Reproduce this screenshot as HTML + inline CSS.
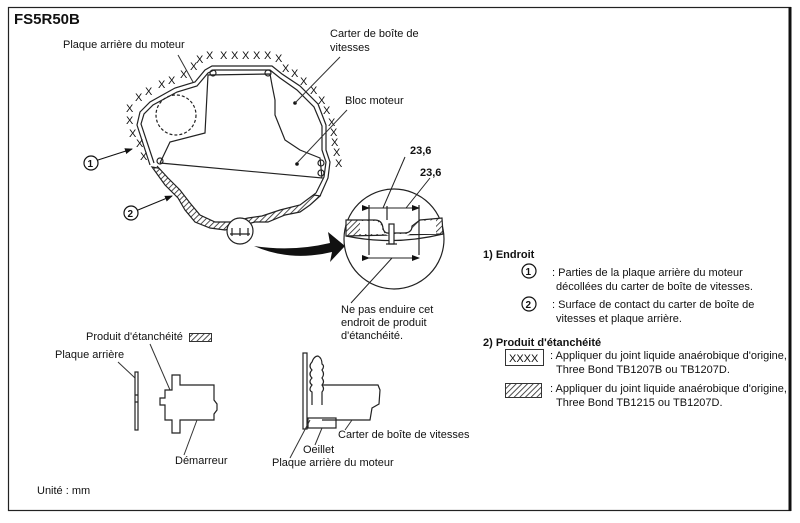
<!DOCTYPE html>
<html><head><meta charset="utf-8"><style>
html,body{margin:0;padding:0;background:#fff;}
svg{display:block;font-family:"Liberation Sans",Arial,sans-serif;}
text{font-size:11px;fill:#111;}
.b{font-weight:bold;}
</style></head><body>
<svg width="800" height="523" viewBox="0 0 800 523" xmlns="http://www.w3.org/2000/svg">
<defs>
<pattern id="h" width="4" height="4" patternUnits="userSpaceOnUse" patternTransform="rotate(45)">
<rect width="4" height="4" fill="#fff"/><line x1="0" y1="0" x2="0" y2="4" stroke="#222" stroke-width="1.6"/></pattern>
<marker id="a" markerWidth="8" markerHeight="8" refX="7" refY="4" orient="auto"><path d="M0,1 L8,4 L0,7z" fill="#111"/></marker>
</defs>
<rect x="0" y="0" width="800" height="523" fill="#fff"/>
<rect x="8.5" y="7.5" width="782" height="503" fill="none" stroke="#222" stroke-width="1.2"/>
<line x1="790" y1="7" x2="790" y2="511" stroke="#111" stroke-width="3"/>
<text x="14" y="24" class="b" style="font-size:15px">FS5R50B</text>

<!-- main plate -->
<g fill="none" stroke="#222" stroke-width="1.2">
<path d="M150,165 L137,125 L140,112 L150,102 L175,88 L195,82 L205,70 L212,66 L272,66 L282,74 L300,86 L318,104 L326,125 L326,150 L330,162 L328,178 L320,196"/>
<path d="M154,163 L141,124 L144,114 L153,105 L177,92 L197,86 L208,73 L214,70 L270,70 L280,78 L297,90 L314,107 L322,126 L322,150 L326,162 L324,177 L316,193"/>
<path d="M320,196 L310,205 L300,212 L285,215 L268,222 L255,222 L240,226 L225,230 L210,228 L195,222 L185,210 L178,198 L165,185 L152,167z" fill="url(#h)"/>
<path d="M316,193 L300,205 L280,210 L262,216 L248,218 L232,222 L215,222 L200,215 L190,203 L180,190 L168,178 L157,166" fill="#fff"/>
<path d="M160,163 L170,142 L205,133 L208,75 L270,74 L272,85 L275,100 L275,115 L285,140 L300,150 L320,158 L322,178 L160,163"/>
<circle cx="176" cy="115" r="20" stroke-dasharray="3,2"/>
<circle cx="213" cy="73" r="3"/><circle cx="268" cy="73" r="3"/>
<circle cx="160" cy="161" r="3"/><circle cx="321" cy="163" r="3"/><circle cx="321" cy="173" r="3"/>
<circle cx="240" cy="231" r="13" fill="#fff"/>
<path d="M230,234 h20 M232,228 v8 M240,228 v8 M248,228 v8"/>
</g>
<circle cx="295" cy="103" r="1.8" fill="#111"/><circle cx="297" cy="164" r="1.8" fill="#111"/>
<g style="font-size:10px" font-family="Liberation Sans">
<text x="196" y="63">X</text><text x="206" y="59">X</text><text x="220" y="59">X</text><text x="231" y="59">X</text><text x="242" y="59">X</text><text x="253" y="59">X</text><text x="264" y="59">X</text><text x="275" y="62">X</text>
<text x="282" y="72">X</text><text x="291" y="77">X</text><text x="300" y="85">X</text><text x="310" y="94">X</text><text x="318" y="104">X</text><text x="323" y="114">X</text><text x="328" y="126">X</text><text x="330" y="136">X</text><text x="331" y="146">X</text><text x="333" y="156">X</text><text x="335" y="167">X</text>
<text x="190" y="70">X</text><text x="180" y="78">X</text><text x="168" y="84">X</text><text x="158" y="88">X</text><text x="145" y="95">X</text><text x="135" y="101">X</text><text x="126" y="112">X</text><text x="126" y="124">X</text><text x="129" y="137">X</text><text x="136" y="147">X</text><text x="140" y="160">X</text>
</g>
<!-- labels -->
<text x="63" y="48">Plaque arrière du moteur</text>
<line x1="178" y1="55" x2="193" y2="82" stroke="#333"/>
<text x="330" y="37">Carter de boîte de</text><text x="330" y="51">vitesses</text>
<line x1="340" y1="57" x2="295" y2="103" stroke="#333"/>
<text x="345" y="104">Bloc moteur</text>
<line x1="347" y1="110" x2="297" y2="163" stroke="#333"/>
<circle cx="91" cy="163" r="7" fill="none" stroke="#111" stroke-width="1.2"/><text x="87.5" y="167" style="font-size:10px" class="b">1</text>
<line x1="98" y1="160" x2="132" y2="149" stroke="#111" marker-end="url(#a)"/>
<circle cx="131" cy="213" r="7" fill="none" stroke="#111" stroke-width="1.2"/><text x="127.5" y="217" style="font-size:10px" class="b">2</text>
<line x1="138" y1="210" x2="172" y2="196" stroke="#111" marker-end="url(#a)"/>
<!-- big arrow -->
<path d="M254,246 Q290,262 332,252 L330,262 L345,246 L328,232 L330,243 Q292,252 254,246z" fill="#111"/>
<!-- zoom circle -->
<g fill="none" stroke="#222" stroke-width="1.2">
<circle cx="394" cy="239" r="50" fill="#fff"/>
<path d="M346,220 L375,220 Q382,220 383,228 Q384,234 390,233 L404,233 Q412,233 412,226 L420,220 L442,218 L443,234 L346,236z" fill="url(#h)"/>
<path d="M360,221 L375,221 Q381,222 382,229 Q384,236 392,236 L404,236 Q413,235 414,227 L422,221 L436,220 L436,234 L360,234z" fill="#fff" stroke="none"/>
<path d="M346,236 Q394,246 443,234"/>
<rect x="389" y="224" width="5" height="20" fill="#fff"/><path d="M386,244 h11"/>
<path d="M369,205 v50 M419,205 v50 M387,206 v14"/>
</g>
<g stroke="#222">
<line x1="369" y1="208" x2="419" y2="208" marker-start="url(#a)" marker-end="url(#a)"/>
<line x1="387" y1="208" x2="392" y2="208"/>
<line x1="369" y1="258" x2="419" y2="258" marker-start="url(#a)" marker-end="url(#a)"/>
<line x1="383" y1="208" x2="405" y2="157"/>
<line x1="406" y1="208" x2="430" y2="178"/>
<line x1="392" y1="258" x2="351" y2="303"/>
</g>
<text x="410" y="154" class="b">23,6</text>
<text x="420" y="176" class="b">23,6</text>
<text x="341" y="313">Ne pas enduire cet</text><text x="341" y="326">endroit de produit</text><text x="341" y="339">d'étanchéité.</text>
<!-- legend -->
<text x="483" y="258" class="b">1) Endroit</text>
<circle cx="529" cy="271" r="7" fill="none" stroke="#111" stroke-width="1.2"/><text x="525.5" y="275" style="font-size:10px" class="b">1</text>
<text x="552" y="276">: Parties de la plaque arrière du moteur</text><text x="556" y="290">décollées du carter de boîte de vitesses.</text>
<circle cx="529" cy="304" r="7" fill="none" stroke="#111" stroke-width="1.2"/><text x="525.5" y="308" style="font-size:10px" class="b">2</text>
<text x="552" y="308">: Surface de contact du carter de boîte de</text><text x="556" y="322">vitesses et plaque arrière.</text>
<text x="483" y="346" class="b">2) Produit d'étanchéité</text>
<rect x="505.5" y="349.5" width="38" height="16" fill="none" stroke="#333"/><text x="509" y="362">XXXX</text>
<text x="550" y="359">: Appliquer du joint liquide anaérobique d'origine,</text><text x="556" y="373">Three Bond TB1207B ou TB1207D.</text>
<rect x="505.5" y="383.5" width="36" height="14" fill="url(#h)" stroke="#333"/>
<text x="550" y="392">: Appliquer du joint liquide anaérobique d'origine,</text><text x="556" y="406">Three Bond TB1215 ou TB1207D.</text>
<!-- bottom left -->
<text x="86" y="340">Produit d'étanchéité</text>
<rect x="189.5" y="333.5" width="22" height="8" fill="url(#h)" stroke="#333"/>
<text x="55" y="358">Plaque arrière</text>
<line x1="118" y1="362" x2="135" y2="378" stroke="#333"/>
<line x1="150" y1="344" x2="170" y2="390" stroke="#333"/>
<g fill="none" stroke="#222" stroke-width="1.2">
<rect x="135" y="372" width="3" height="58"/><path d="M135,395 h3 M135,402 h3"/>
<path d="M172,375 L180,375 L180,385 L214,385 L214,400 L217,404 L217,410 L214,414 L214,420 L180,420 L180,433 L172,433 L172,420 L165,420 L165,405 L160,405 L160,398 L165,398 L165,390 L172,390z"/>
</g>
<line x1="197" y1="420" x2="184" y2="455" stroke="#333"/>
<text x="175" y="464">Démarreur</text>
<text x="37" y="494">Unité : mm</text>
<!-- bottom right -->
<g fill="none" stroke="#222" stroke-width="1.2">
<rect x="303" y="353" width="4" height="76" fill="#fff"/>
<path d="M312,405 L312,392 Q308,390 312,385 Q308,382 312,378 Q308,374 312,370 Q308,366 312,362 Q314,356 318,356 Q322,358 322,364 Q325,366 322,370 Q325,374 322,378 Q325,382 322,385 Q325,389 322,392 L322,405"/>
<path d="M322,385 L378,385 L380,390 L379,404 L372,408 L370,420 L322,420"/>
<rect x="308" y="418" width="28" height="10"/>
</g>
<line x1="310" y1="420" x2="290" y2="458" stroke="#333"/>
<line x1="322" y1="428" x2="315" y2="445" stroke="#333"/>
<line x1="352" y1="420" x2="345" y2="430" stroke="#333"/>
<text x="338" y="438">Carter de boîte de vitesses</text>
<text x="303" y="453">Oeillet</text>
<text x="272" y="466">Plaque arrière du moteur</text>
</svg>
</body></html>
